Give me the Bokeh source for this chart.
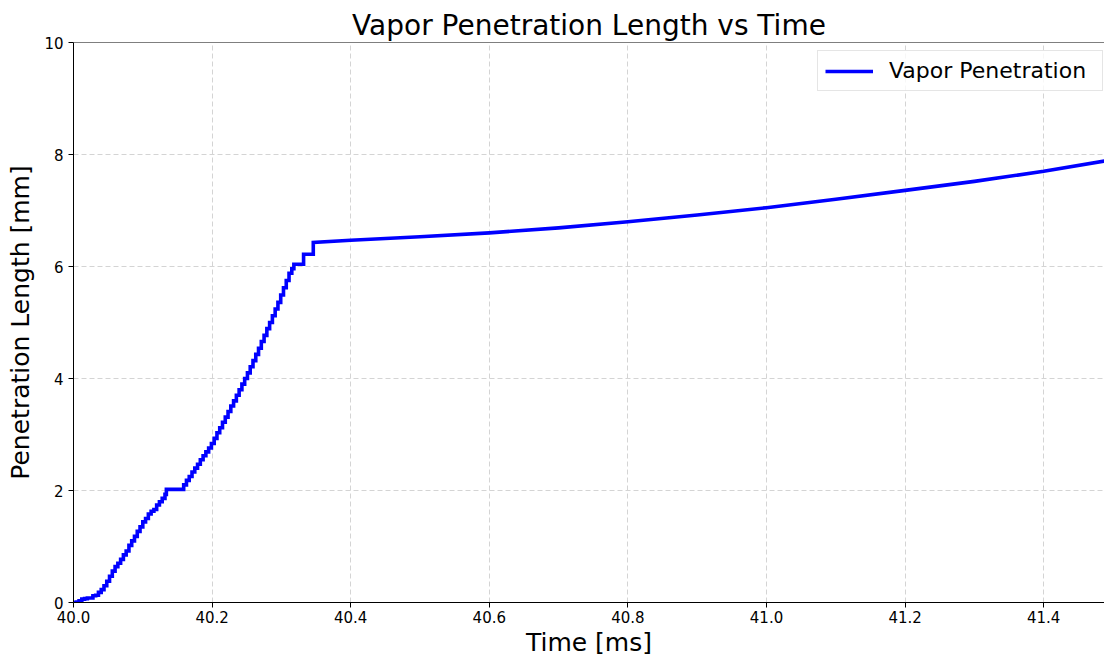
from bokeh.plotting import figure
from bokeh.models import Range1d, FixedTicker, Span, Legend, LegendItem, CustomJSTickFormatter
from bokeh.embed import file_html
from bokeh.resources import INLINE

# --- Spray vapor penetration record ---------------------------------------
# Stepped part of the record: each value holds until the next time sample [ms, mm]
step_time = [
    40.000, 40.004, 40.008, 40.012, 40.016, 40.020, 40.024, 40.028, 40.032, 40.036,
    40.040, 40.044, 40.048, 40.052, 40.056, 40.060, 40.064, 40.068, 40.072, 40.076,
    40.080, 40.084, 40.088, 40.092, 40.096, 40.100, 40.104, 40.108, 40.112, 40.116,
    40.120, 40.124, 40.128, 40.132,
    40.134,
    40.159, 40.163, 40.167, 40.171, 40.175, 40.179, 40.183, 40.187, 40.191, 40.195,
    40.199, 40.203, 40.207, 40.211, 40.215, 40.219, 40.223, 40.227, 40.231, 40.235,
    40.239, 40.243, 40.247, 40.251, 40.255, 40.259, 40.263, 40.267, 40.271, 40.275,
    40.279, 40.283, 40.287, 40.291, 40.295, 40.299, 40.303, 40.307, 40.311, 40.315,
    40.318,
    40.332,
]
step_value = [
    0.00, 0.01, 0.03, 0.06, 0.07, 0.08, 0.08, 0.12, 0.13, 0.18,
    0.23, 0.30, 0.38, 0.47, 0.56, 0.64, 0.70, 0.77, 0.85, 0.92,
    1.02, 1.10, 1.18, 1.27, 1.35, 1.44, 1.50, 1.58, 1.63, 1.66,
    1.74, 1.80, 1.86, 1.93,
    2.02,
    2.10, 2.18, 2.25, 2.33, 2.40, 2.47, 2.55, 2.62, 2.69, 2.76,
    2.84, 2.93, 3.03, 3.12, 3.22, 3.31, 3.41, 3.51, 3.60, 3.70,
    3.80, 3.90, 4.00, 4.10, 4.21, 4.32, 4.43, 4.54, 4.66, 4.77,
    4.89, 5.00, 5.12, 5.24, 5.36, 5.49, 5.62, 5.75, 5.88, 5.96,
    6.04,
    6.22,
]

# Smooth part of the record after the last jump [ms, mm]
smooth_time = [40.346, 40.400, 40.500, 40.600, 40.700, 40.800, 40.900,
               41.000, 41.100, 41.200, 41.300, 41.400, 41.500]
smooth_value = [6.43, 6.47, 6.53, 6.60, 6.69, 6.80, 6.92,
                7.05, 7.20, 7.36, 7.52, 7.70, 7.91]

x_ticks = [40.0, 40.2, 40.4, 40.6, 40.8, 41.0, 41.2, 41.4]
y_ticks = [0, 2, 4, 6, 8, 10]

# Build one continuous path: hold each stepped value until the next sample
path_x, path_y = [], []
all_t = step_time + [smooth_time[0]]
for i, v in enumerate(step_value):
    path_x += [all_t[i], all_t[i + 1]]
    path_y += [v, v]
path_x += smooth_time
path_y += smooth_value

FONT = "DejaVu Sans"

p = figure(
    width=1104, height=659,
    x_range=Range1d(40.0, 41.4877), y_range=Range1d(0, 10),
    output_backend="svg", toolbar_location=None,
    title="Vapor Penetration Length vs Time",
    min_border_left=73, min_border_right=0, min_border_top=42, min_border_bottom=57,
    background_fill_color="white", border_fill_color="white",
)
p.outline_line_color = None

p.title.align = "center"
p.title.text_font = FONT
p.title.text_font_size = "28px"
p.title.text_font_style = "normal"
p.title.text_color = "black"
p.title.standoff = 2

line = p.line(path_x, path_y, line_color="#0000ff", line_width=3.6,
              line_join="miter")

# Top spine
p.add_layout(Span(location=10, dimension="width", line_color="black", line_width=1))

for ax in (p.xaxis[0], p.yaxis[0]):
    ax.axis_line_color = "black"
    ax.axis_line_width = 1
    ax.major_tick_line_color = "black"
    ax.major_tick_out = 5
    ax.major_tick_in = 0
    ax.minor_tick_line_color = None
    ax.major_label_text_font = FONT
    ax.major_label_text_font_size = "15px"
    ax.major_label_text_color = "black"
    ax.axis_label_text_font = FONT
    ax.axis_label_text_font_size = "25px"
    ax.axis_label_text_font_style = "normal"
    ax.axis_label_text_color = "black"

p.xaxis.ticker = FixedTicker(ticks=x_ticks)
p.yaxis.ticker = FixedTicker(ticks=y_ticks)
p.xaxis.formatter = CustomJSTickFormatter(code="return tick.toFixed(1);")
p.yaxis.formatter = CustomJSTickFormatter(code="return tick.toFixed(0);")
p.xaxis.axis_label = "Time [ms]"
p.yaxis.axis_label = "Penetration Length [mm]"
p.xaxis.major_label_standoff = 3
p.yaxis.major_label_standoff = 5
p.xaxis.axis_label_standoff = 2
p.yaxis.axis_label_standoff = 6

p.xgrid.ticker = FixedTicker(ticks=x_ticks)
p.ygrid.ticker = FixedTicker(ticks=y_ticks)
for g in (p.xgrid[0], p.ygrid[0]):
    g.grid_line_color = "#d4d4d4"
    g.grid_line_dash = "5 3"
    g.grid_line_width = 1

legend = Legend(
    items=[LegendItem(label="Vapor Penetration", renderers=[line])],
    location=(744, 511),
    label_text_font=FONT, label_text_font_size="22px", label_text_color="black",
    glyph_width=48, glyph_height=24, label_width=206, label_height=24,
    label_standoff=16, padding=7, spacing=0, margin=0,
    border_line_color="#cccccc", border_line_width=1,
    background_fill_color="white", background_fill_alpha=0.8,
)
p.add_layout(legend)

open("out.html", "w").write(file_html(p, INLINE))
